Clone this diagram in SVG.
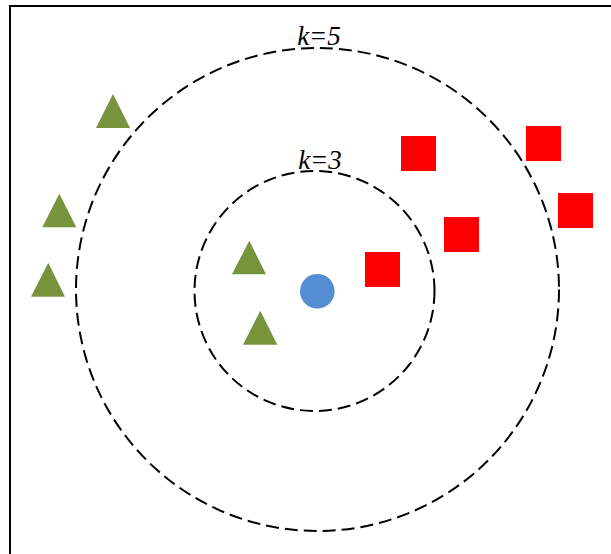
<svg xmlns="http://www.w3.org/2000/svg" width="611" height="554" viewBox="0 0 611 554">
<style>
.ring{fill:none;stroke:#000;stroke-width:2;stroke-dasharray:13 6}
.tri{fill:#77933C}
.sq{fill:#FF0000}
.lbl{font-family:"Liberation Serif",serif;font-style:italic;font-size:27px;fill:#000;text-anchor:middle}
</style>
<rect width="611" height="554" fill="#fff"/>
<path d="M10,554 V6 H611" fill="none" stroke="#000" stroke-width="2"/>
<g id="connectors">
<circle id="ring-k5" class="ring" cx="317.5" cy="289.5" r="241.5"/>
<circle id="ring-k3" class="ring" cx="314.5" cy="291" r="120"/>
</g>
<g id="label-k5"><text class="lbl" x="319" y="45">k=5</text></g>
<g id="label-k3"><text class="lbl" x="320" y="169">k=3</text></g>
<g id="tri1"><polygon class="tri" points="113,94 96,128 130,128"/></g>
<g id="tri2"><polygon class="tri" points="59.3,193.7 42.3,227.3 76.3,227.3"/></g>
<g id="tri3"><polygon class="tri" points="48.3,262.7 31,296.7 65,296.7"/></g>
<g id="tri4"><polygon class="tri" points="249.3,240.7 232,274.3 266,274.3"/></g>
<g id="tri5"><polygon class="tri" points="260.3,310.7 243,344.7 277.3,344.7"/></g>
<g id="sq1"><rect class="sq" x="365" y="252" width="35" height="35"/></g>
<g id="sq2"><rect class="sq" x="401" y="136" width="35" height="35"/></g>
<g id="sq3"><rect class="sq" x="444" y="217" width="35" height="35"/></g>
<g id="sq4"><rect class="sq" x="526" y="126" width="35" height="35"/></g>
<g id="sq5"><rect class="sq" x="558" y="193" width="35" height="35"/></g>
<g id="query"><circle cx="317.3" cy="291.3" r="17.3" fill="#558ED5"/></g>
</svg>
